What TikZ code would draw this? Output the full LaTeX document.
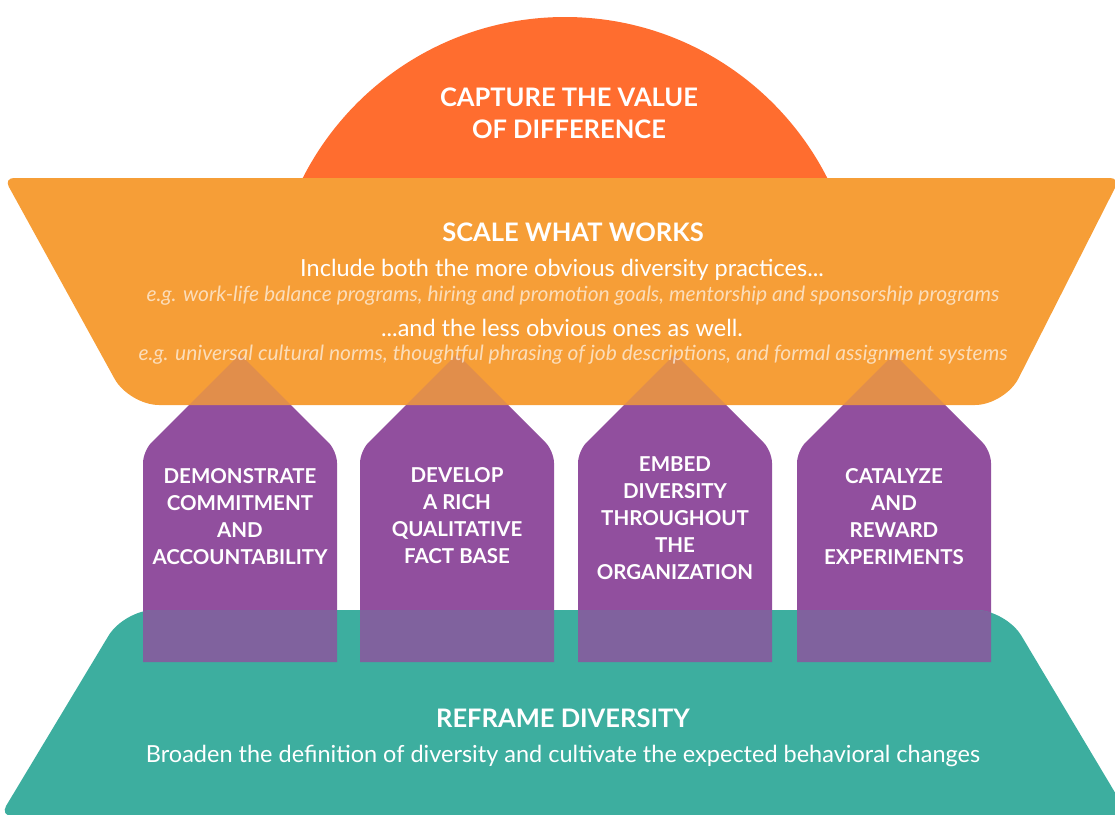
\documentclass[tikz,border=0pt]{standalone}
\usepackage{fontspec}
\setmainfont{Lato}

\definecolor{Capture}{HTML}{FF6D2F}
\definecolor{Scale}{HTML}{F69E37}
\definecolor{Pillar}{HTML}{914F9E}
\definecolor{Reframe}{HTML}{3DAE9F}

\tikzstyle{head-text}=[text=white, font=\bfseries\fontsize{25.5}{32}\selectfont, align=center]
\tikzstyle{body-text}=[text=white, font=\fontsize{23.5}{28}\selectfont, anchor=base]
\tikzstyle{example-text}=[text=white, text opacity=0.65, font=\itshape\fontsize{21}{24}\selectfont, anchor=base]
\tikzstyle{pillar-text}=[text=white, font=\bfseries\fontsize{20.5}{27}\selectfont, align=center]

% one pillar, centred at x = #1
\newcommand{\pillarshape}[1]{(#1-97,662) [rounded corners=12pt] -- (#1-97,451) [sharp corners] -- (#1,354) [rounded corners=12pt] -- (#1+97,451) [sharp corners] -- (#1+97,662) -- cycle}

\begin{document}
\begin{tikzpicture}[x=1pt, y=-1pt]
      \useasboundingbox (0,0) rectangle (1115,814);
      \clip (0,0) rectangle (1115,814);

      \begin{scope}
        \clip (0,0) rectangle (1115,300);
        \fill[Capture] (565,311) circle (294);
      \end{scope}

      \fill[Pillar] \pillarshape{240} \pillarshape{457} \pillarshape{675} \pillarshape{894};

      \path[save path=\scalepath] [rounded corners=10pt] (560,178) -- (1120,178) [rounded corners=30pt] -- (1005,405) -- (129,405) [rounded corners=10pt] -- (4,178) -- cycle;
      \path[save path=\reframepath] [rounded corners=30pt] (565,610) -- (1006,610) [rounded corners=12pt] -- (1129,816) -- (0,816) [rounded corners=30pt] -- (124,610) -- cycle;

      \fill[Scale, use path=\scalepath];
      \fill[Reframe, use path=\reframepath];

      \begin{scope}
        \clip[use path=\scalepath];
        \fill[Pillar, opacity=0.2] \pillarshape{240} \pillarshape{457} \pillarshape{675} \pillarshape{894};
      \end{scope}
      \begin{scope}
        \clip[use path=\reframepath];
        \fill[Pillar, opacity=0.8] \pillarshape{240} \pillarshape{457} \pillarshape{675} \pillarshape{894};
      \end{scope}

      \node (capture) at (569,113) [head-text] {CAPTURE THE VALUE\\OF DIFFERENCE};

      \node (scale) at (573,232) [head-text] {SCALE WHAT WORKS};
      \node (scale:more) at (562,276) [body-text] {Include both the more obvious diversity practices...};
      \node (scale:more-eg) at (573,301) [example-text] {e.g. work-life balance programs, hiring and promotion goals, mentorship and sponsorship programs};
      \node (scale:less) at (562,336) [body-text] {...and the less obvious ones as well.};
      \node (scale:less-eg) at (573,360) [example-text] {e.g. universal cultural norms, thoughtful phrasing of job descriptions, and formal assignment systems};

      \node (pillar:1) at (240,517) [pillar-text] {DEMONSTRATE\\COMMITMENT\\AND\\ACCOUNTABILITY};
      \node (pillar:2) at (457,516) [pillar-text] {DEVELOP\\A RICH\\QUALITATIVE\\FACT BASE};
      \node (pillar:3) at (675,518) [pillar-text] {EMBED\\DIVERSITY\\THROUGHOUT\\THE\\ORGANIZATION};
      \node (pillar:4) at (894,517) [pillar-text] {CATALYZE\\AND\\REWARD\\EXPERIMENTS};

      \node (reframe) at (563,718) [head-text] {REFRAME DIVERSITY};
      \node (reframe:text) at (563,762) [body-text] {Broaden the definition of diversity and cultivate the expected behavioral changes};
    \end{tikzpicture}
\end{document}
